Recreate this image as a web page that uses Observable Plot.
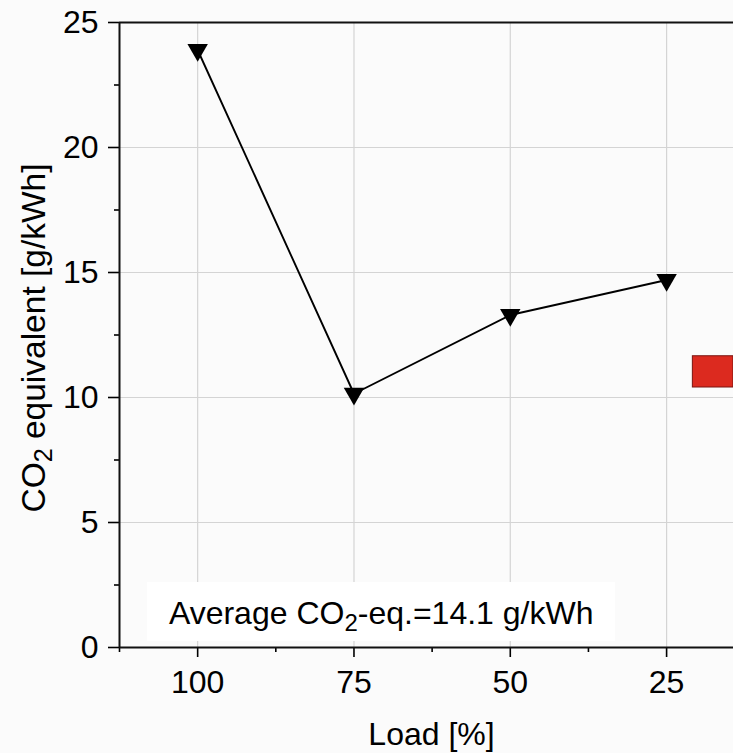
<!DOCTYPE html>
<html>
<head>
<meta charset="utf-8">
<script src="https://cdn.jsdelivr.net/npm/d3@7"></script>
<script src="https://cdn.jsdelivr.net/npm/@observablehq/plot@0.6"></script>
<style>
  html, body { margin: 0; padding: 0; background: #fbfbfb; overflow: hidden; }
  #chart svg { display: block; }
</style>
</head>
<body>
<div id="chart"></div>
<script>
// ---- data ----
const loads = [100, 75, 50, 25];
const co2Equivalent = [23.9, 10.15, 13.3, 14.7];

const xDomain = [112.5, 14.3];
const yDomain = [0, 25];
const xTicks = [100, 75, 50, 25];
const xMinorTicks = [112.5, 87.5, 62.5, 37.5];
const yTicks = [0, 5, 10, 15, 20, 25];
const yMinorTicks = [2.5, 7.5, 12.5, 17.5, 22.5];
const yGrid = [5, 10, 15, 20];

const xLabel = "Load [%]";
const yLabel = "CO2 equivalent [g/kWh]";
const averageText = "Average CO2-eq.=14.1 g/kWh";
const averageTextPos = [{x: 104.6, y: 0.96}];
const averageBox = [{x1: 108, x2: 33.2, y1: 0.24, y2: 2.6}];
const redBox = [{x1: 20.8, x2: 14.3, y1: 10.4, y2: 11.65}];

const data = loads.map((l, i) => ({load: l, co2: co2Equivalent[i]}));
const font = "'Liberation Sans', Arial, sans-serif";

const chart = Plot.plot({
  width: 733,
  height: 753,
  marginLeft: 119,
  marginRight: 0,
  marginTop: 22,
  marginBottom: 106,
  style: {fontFamily: font, color: "black", background: "transparent", overflow: "visible"},
  x: {domain: xDomain, label: null},
  y: {domain: yDomain, label: null},
  marks: [
    Plot.gridX(xTicks, {stroke: "#d4d4d4", strokeOpacity: 1, strokeWidth: 1.2}),
    Plot.gridY(yGrid, {stroke: "#d4d4d4", strokeOpacity: 1, strokeWidth: 1.2}),
    Plot.rect(averageBox, {x1: "x1", x2: "x2", y1: "y1", y2: "y2", fill: "white"}),
    Plot.axisX({ticks: xTicks, tickSize: 10, tickPadding: 13, fontSize: 32, label: null, strokeWidth: 1.6}),
    Plot.axisX({ticks: xMinorTicks, tickSize: 5, text: null, label: null, strokeWidth: 1.6}),
    Plot.axisY({ticks: yTicks, tickSize: 11, tickPadding: 10, fontSize: 32, label: null, strokeWidth: 1.6}),
    Plot.axisY({ticks: yMinorTicks, tickSize: 5, text: null, label: null, strokeWidth: 1.6}),
    Plot.ruleX([xDomain[0]], {stroke: "#111", strokeWidth: 2}),
    Plot.ruleY([yDomain[0]], {stroke: "#111", strokeWidth: 2}),
    Plot.ruleY([yDomain[1]], {stroke: "#111", strokeWidth: 2.2}),
    Plot.line(data, {x: "load", y: "co2", stroke: "black", strokeWidth: 1.9}),
    Plot.dot(data, {x: "load", y: "co2", symbol: "triangle", r: 7.6, fill: "black", stroke: "none", rotate: 180}),
    Plot.rect(redBox, {x1: "x1", x2: "x2", y1: "y1", y2: "y2", fill: "#dc2a1f", stroke: "#7a1410", strokeWidth: 1}),
    Plot.text([averageText], {x: () => averageTextPos[0].x, y: () => averageTextPos[0].y, text: d => d, textAnchor: "start", lineAnchor: "bottom", fontSize: 32, fill: "black"}),
    Plot.text([xLabel], {frameAnchor: "bottom", text: d => d, dx: 5, dy: 97, textAnchor: "middle", lineAnchor: "bottom", fontSize: 32, fill: "black"}),
    Plot.text([yLabel], {frameAnchor: "left", text: d => d, rotate: -90, dx: -75, dy: 3, textAnchor: "middle", lineAnchor: "bottom", fontSize: 33.5, fill: "black"})
  ]
});

document.getElementById("chart").appendChild(chart);

// Subscript the "2" in CO2
d3.select(chart).selectAll("text").each(function() {
  const el = this;
  if (el.querySelector("tspan")) return;
  const s = el.textContent;
  const i = s.indexOf("CO2");
  if (i < 0) return;
  const size = parseFloat(el.getAttribute("font-size") || getComputedStyle(el).fontSize) || 32;
  const sel = d3.select(el);
  sel.text(null);
  sel.append("tspan").text(s.slice(0, i + 2));
  sel.append("tspan").attr("dy", size * 0.22).attr("font-size", size * 0.75).text("2");
  sel.append("tspan").attr("dy", -size * 0.22).text(s.slice(i + 3));
});
</script>
</body>
</html>
